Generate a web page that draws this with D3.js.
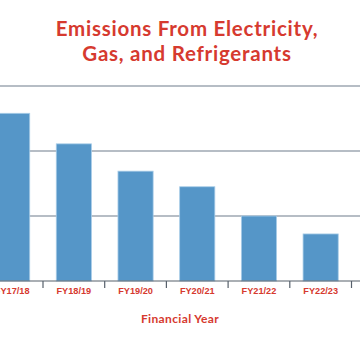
<!DOCTYPE html>
<html><head><meta charset="utf-8">
<script src="https://cdn.jsdelivr.net/npm/d3@7"></script>
<style>html,body{margin:0;padding:0;background:#fff;}</style>
</head><body>
<svg id="c" width="360" height="360"></svg>
<script>
const categories = ["FY17/18","FY18/19","FY19/20","FY20/21","FY21/22","FY22/23"];
const emissions = [1290, 1055, 845, 725, 500, 362];
const gridValues = [500, 1000, 1500];
const titleLines = ["Emissions From Electricity,", "Gas, and Refrigerants"];
const xTitle = "Financial Year";

const svg = d3.select("#c");
const red = "#d63a2f";
const x = d3.scaleBand().domain(categories).range([-18.7, 351.5]).paddingInner(0.43).paddingOuter(0.215);
const y = d3.scaleLinear().domain([0, 1500]).range([281, 86]);

// grid
svg.selectAll("line.grid").data(gridValues).join("line")
  .attr("x1", 0).attr("x2", 360)
  .attr("y1", d => y(d)).attr("y2", d => y(d))
  .attr("stroke", "#6e7c8b").attr("stroke-width", 1.2);

// bars
svg.selectAll("rect.bar").data(categories).join("rect")
  .attr("x", d => x(d)).attr("width", x.bandwidth())
  .attr("y", (d,i) => y(emissions[i])).attr("height", (d,i) => y(0) - y(emissions[i]))
  .attr("fill", "#5596c8").attr("stroke", "#a9cde8").attr("stroke-width", 0.8);

// baseline
svg.append("line").attr("x1", 0).attr("x2", 360).attr("y1", y(0)).attr("y2", y(0))
  .attr("stroke", "#56606b").attr("stroke-width", 1.2);

// ticks at band boundaries
svg.selectAll("line.tick").data(categories).join("line")
  .attr("x1", d => x(d) - x.step()*0.215 + x.step()).attr("x2", d => x(d) - x.step()*0.215 + x.step())
  .attr("y1", y(0)).attr("y2", y(0) + 7)
  .attr("stroke", "#56606b").attr("stroke-width", 1.2);

// tick labels
svg.selectAll("text.lab").data(categories).join("text")
  .attr("x", d => x(d) + x.bandwidth()/2).attr("y", 294)
  .attr("text-anchor", "middle")
  .attr("font-family", "Liberation Sans, Arial, sans-serif").attr("font-weight", "bold")
  .attr("font-size", 9.2).attr("fill", red).text(d => d);

// axis title
svg.append("text").attr("x", 180).attr("y", 323).attr("text-anchor", "middle")
  .attr("font-family", "Lato, sans-serif").attr("font-weight", "bold")
  .attr("font-size", 12).attr("letter-spacing", 0.35).attr("fill", red).text(xTitle);

// title
svg.selectAll("text.title").data(titleLines).join("text")
  .attr("x", 187).attr("y", (d,i) => 36 + i*25).attr("text-anchor", "middle")
  .attr("font-family", "Lato, sans-serif").attr("font-weight", "bold")
  .attr("font-size", 20.5).attr("letter-spacing", 0.75).attr("fill", red).text(d => d);
</script>
</body></html>
